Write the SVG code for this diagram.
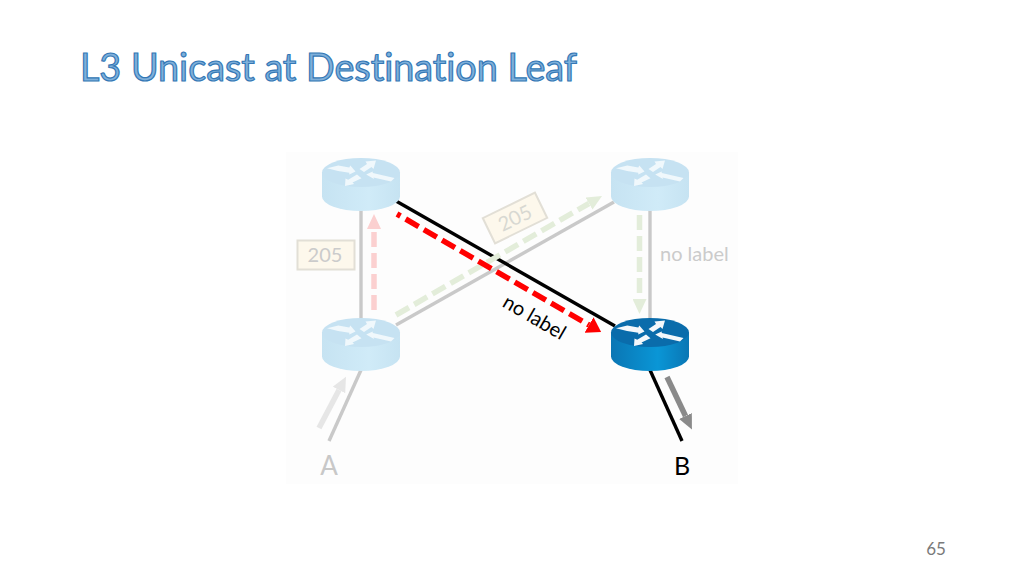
<svg xmlns="http://www.w3.org/2000/svg" width="1024" height="576" viewBox="0 0 1024 576">
<style>
text{font-family:"Lato","Open Sans","Liberation Sans",sans-serif;font-variant-ligatures:none}
.link{fill:none;stroke-width:3.4}
.gray{stroke:#c9c9c9}
.black{stroke:#000}
.flow{fill:none;stroke-width:5.500}
.dash{stroke-dasharray:15 6}
.tag{fill:#fdf8ec;stroke:#e2dfd6;stroke-width:2}
.faint{fill:#cbcbcb;font-size:20px}
</style>
<defs>
<linearGradient id="lightSide" x1="0" x2="1" y1="0" y2="0"><stop offset="0" stop-color="#c6e3f2"/><stop offset=".6" stop-color="#d0ebf8"/><stop offset="1" stop-color="#c6e3f2"/></linearGradient>
<linearGradient id="darkSide" x1="0" x2="1" y1="0" y2="0"><stop offset="0" stop-color="#0a76b4"/><stop offset=".6" stop-color="#0a96d6"/><stop offset="1" stop-color="#0a76b4"/></linearGradient>
<g id="arrows">
<polygon points="-34,-4.300 -22.700,-7 -11.700,-5 -10.700,-7 -5.500,-1 -11.700,2 -11.700,.3 -23,-1.500"/>
<polygon points="-1.500,-3.500 6,-8.500 4.500,-11 15,-12 12.500,-3.500 10.500,-5.500 3,-.5"/>
<polygon points="5.200,2 11.700,-1 11.800,.5 33.500,5.500 30,9 12.500,5 13,6.500"/>
<polygon points="-16,13.500 -15.500,6 -12.800,7.200 -4,2 .5,5.700 -8.500,10 -6.800,11.500"/>
</g>
<g id="routerLight"><path d="M-39 0V24A39 14.500 0 0 0 39 24V0Z" fill="url(#lightSide)"/><ellipse rx="39" ry="14.500" fill="#c6e2f2"/><use href="#arrows" fill="#f0f8fc"/></g>
<g id="routerDark"><path d="M-39 0V24A39 14.500 0 0 0 39 24V0Z" fill="url(#darkSide)"/><ellipse rx="39" ry="14.500" fill="#0a6cab"/><use href="#arrows" fill="#f4f8fb"/></g>
<marker id="hRed" markerUnits="userSpaceOnUse" markerWidth="14" markerHeight="18" refX="0" refY="9" orient="auto"><polygon points="0,0 14,9 0,18" fill="#f00"/></marker>
<marker id="hPink" markerUnits="userSpaceOnUse" markerWidth="15" markerHeight="14" refX="0" refY="7" orient="auto"><polygon points="0,0 15,7 0,14" fill="#fbd0d0"/></marker>
<marker id="hGreen" markerUnits="userSpaceOnUse" markerWidth="15" markerHeight="14" refX="0" refY="7" orient="auto"><polygon points="0,0 15,7 0,14" fill="#e3edda"/></marker>
<marker id="hLight" markerUnits="userSpaceOnUse" markerWidth="15" markerHeight="14" refX="0" refY="7" orient="auto"><polygon points="0,0 15,7 0,14" fill="#e6e6e6"/></marker>
<marker id="hGray" markerUnits="userSpaceOnUse" markerWidth="15" markerHeight="14" refX="0" refY="7" orient="auto"><polygon points="0,0 15,7 0,14" fill="#8a8a8a"/></marker>
</defs>
<rect width="1024" height="576" fill="#fff"/>
<rect x="286" y="152" width="452" height="332" fill="#fdfdfd"/>
<text id="title" x="80" y="81" font-size="38" textLength="497" lengthAdjust="spacingAndGlyphs" fill="#7fb0da" stroke="#3478b6" stroke-width="1.2">L3 Unicast at Destination Leaf</text>
<g id="connectors">
<line class="link gray" x1="361" y1="208" x2="361" y2="320"/>
<line class="link gray" x1="396" y1="325" x2="614" y2="202"/>
<line class="link gray" x1="650" y1="208" x2="650" y2="320"/>
<line class="link gray" x1="361" y1="370" x2="329" y2="441"/>
<line class="link black" x1="396" y1="201" x2="615" y2="326"/>
<line class="link black" x1="650" y1="370" x2="682" y2="441"/>
<line class="flow dash" stroke="#fbd0d0" x1="374" y1="310" x2="374" y2="229" marker-end="url(#hPink)"/>
<line class="flow dash" stroke="#e3edda" x1="396" y1="315" x2="589" y2="203.500" marker-end="url(#hGreen)"/>
<line class="flow dash" stroke="#e3edda" x1="639.500" y1="215" x2="639.500" y2="299" marker-end="url(#hGreen)"/>
<line class="flow" stroke="#f00" stroke-dasharray="4 6 15 6 15 6 15 6 15 6 15 6 15 6 15 6 15 6 15 6 15 6 15 6 15 6" x1="397" y1="214" x2="589" y2="325" marker-end="url(#hRed)"/>
<line class="flow" stroke="#e6e6e6" x1="319" y1="428" x2="339" y2="390" marker-end="url(#hLight)"/>
<line class="flow" stroke="#8a8a8a" x1="667" y1="377" x2="685.500" y2="416" marker-end="url(#hGray)"/>
</g>
<g id="router-top-left"><use href="#routerLight" x="361" y="172.500"/></g>
<g id="router-top-right"><use href="#routerLight" x="650" y="172.500"/></g>
<g id="router-bottom-left"><use href="#routerLight" x="361" y="332.500"/></g>
<g id="router-bottom-right"><use href="#routerDark" x="650" y="332.500"/></g>
<g id="label-205-left"><rect class="tag" x="297.500" y="240.500" width="57" height="29"/><text class="faint" x="325" y="262" text-anchor="middle">205</text></g>
<g id="label-205-diagonal" transform="translate(515 218) rotate(-26)"><rect class="tag" x="-29" y="-14" width="58" height="28"/><text class="faint" x="0" y="7" text-anchor="middle" style="fill:#d8d8d2">205</text></g>
<text id="label-no-label-right" class="faint" x="660" y="261">no label</text>
<text id="label-no-label-diagonal" transform="translate(534 318) rotate(30)" x="0" y="6" font-size="20" fill="#000" text-anchor="middle">no label</text>
<text id="host-a" x="329" y="475" font-size="26" fill="#c8c8c8" text-anchor="middle">A</text>
<text id="host-b" x="682" y="475" font-size="25" fill="#000" text-anchor="middle">B</text>
<text id="page-number" x="936" y="555" font-size="17" fill="#7a7a7a" text-anchor="middle">65</text>
</svg>
